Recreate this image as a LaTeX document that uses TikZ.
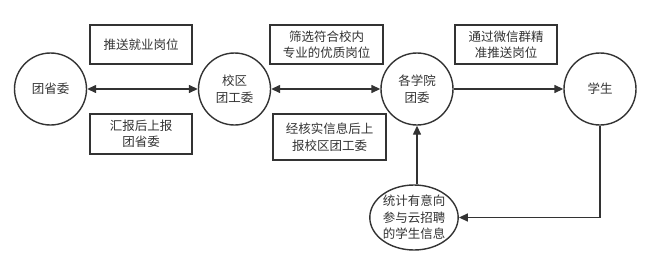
\documentclass[tikz,border=0pt]{standalone}
\usepackage{fontspec}
\newfontfamily\cjk{Noto Sans CJK SC}
\usetikzlibrary{shapes.geometric,arrows.meta}
\definecolor{ink}{HTML}{333333}

\begin{document}
\begin{tikzpicture}[x=1pt,y=-1pt,line width=1.4pt,
  every node/.style={font=\cjk\fontsize{12.5}{16.5}\selectfont,align=center,text=ink},
  unit/.style={circle,draw=ink,minimum size=72pt,inner sep=0pt},
  note/.style={rectangle,draw=ink,inner sep=0pt,minimum height=39pt},
  link/.style={draw=ink,-{Triangle[length=9pt,width=8pt]}},
  both/.style={draw=ink,{Triangle[length=9pt,width=8pt]}-{Triangle[length=9pt,width=8pt]}}]
  \useasboundingbox (0,0) rectangle (650,260);
  % organisations
  \node[unit] (tsw) at (50.5,89) {团省委};
  \node[unit] (xqtgw) at (234.5,89) {校区\\团工委};
  \node[unit] (xytw) at (417,89) {各学院\\团委};
  \node[unit] (xs) at (600,89) {学生};
  \node[ellipse,draw=ink,minimum width=86pt,minimum height=65pt,inner sep=0pt]
    (tj) at (414,217.5) {统计有意向\\参与云招聘\\的学生信息};
  % labels
  \node[note,minimum width=102pt] (ts) at (141,44.5) {推送就业岗位};
  \node[note,minimum width=102pt,minimum height=40pt] (hb) at (141,134) {汇报后上报\\团省委};
  \node[note,minimum width=113pt] (sx) at (326.5,44.5) {筛选符合校内\\专业的优质岗位};
  \node[note,minimum width=113pt,minimum height=46pt] (hs) at (329.5,137) {经核实信息后上\\报校区团工委};
  \node[note,minimum width=102pt] (wx) at (506,44.5) {通过微信群精\\准推送岗位};
  % connectors
  \draw[both] (tsw) -- (xqtgw);
  \draw[both] (xqtgw) -- (xytw);
  \draw[link] (xytw) -- (xs);
  \draw[link] (xs.south) |- (tj.east);
  \draw[link] (xytw.south |- tj.north) -- (xytw.south);
\end{tikzpicture}
\end{document}
